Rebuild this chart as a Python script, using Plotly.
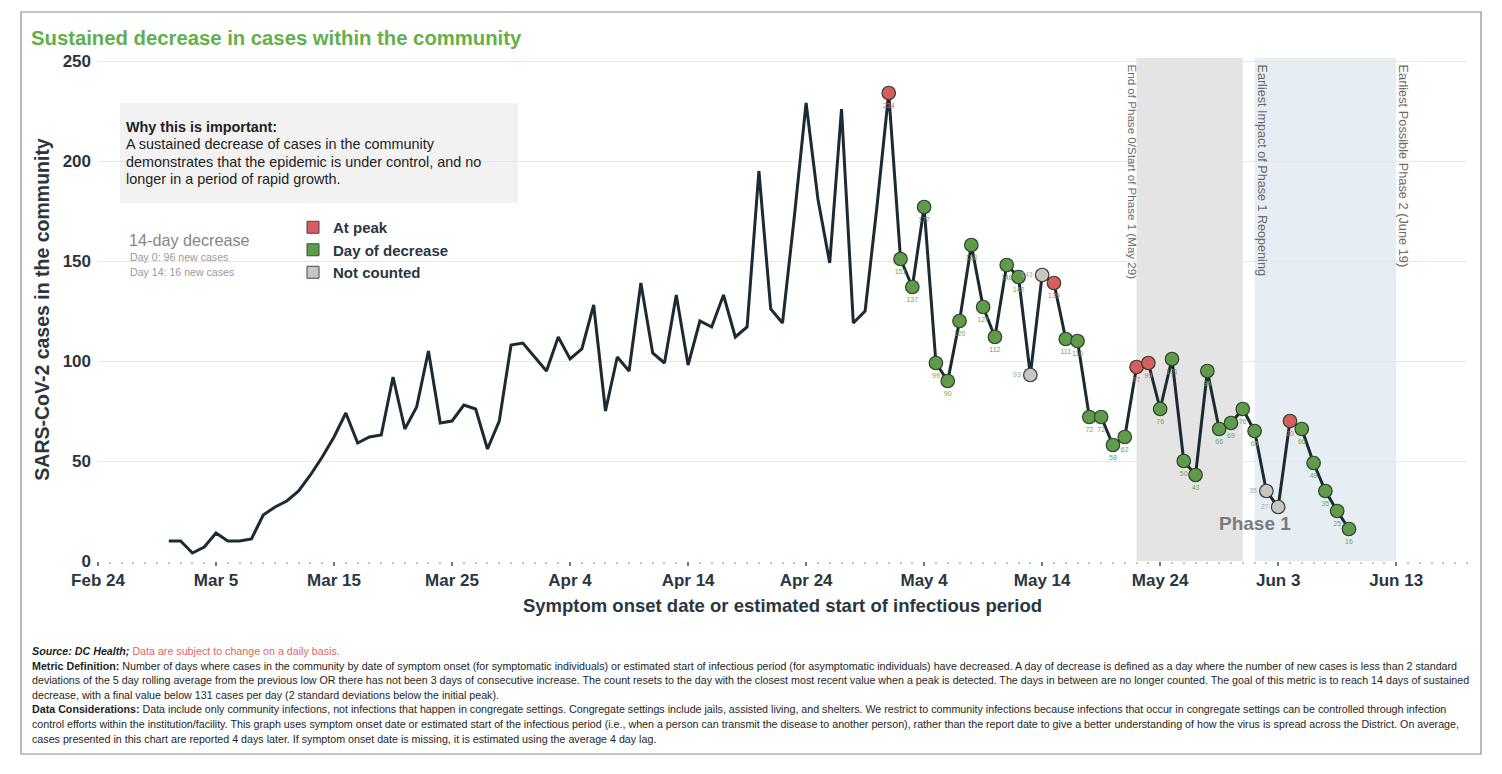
import plotly.graph_objects as go
import pandas as pd

# ---------------- data ----------------
first_date = "2020-03-01"
cases = [10, 10, 4, 7, 14, 10, 10, 11, 23, 27,
         30, 35, 43, 52, 62, 74, 59, 62, 63, 92,
         66, 77, 105, 69, 70, 78, 76, 56, 70, 108,
         109, 102, 95, 112, 101, 106, 128, 75, 102, 95,
         139, 104, 99, 133, 98, 120, 117, 133, 112, 117,
         195, 126, 119, 172, 229, 181, 149, 226, 119, 125,
         177,
         234, 151, 137, 177, 99, 90, 120, 158, 127, 112,
         148, 142, 93, 143, 139, 111, 110, 72, 72, 58,
         62, 97, 99, 76, 101, 50, 43, 95, 66, 69,
         76, 65, 35, 27, 70, 66, 49, 35, 25, 16]

tracking_start = "2020-05-01"
# P = at peak, D = day of decrease, N = not counted
status = ["P", "D", "D", "D", "D", "D", "D", "D", "D", "D",
          "D", "D", "N", "N", "P", "D", "D", "D", "D", "D",
          "D", "P", "P", "D", "D", "D", "D", "D", "D", "D",
          "D", "D", "N", "N", "P", "D", "D", "D", "D", "D"]

status_names = {"P": "At peak", "D": "Day of decrease", "N": "Not counted"}
tick_dates = ["2020-02-24", "2020-03-05", "2020-03-15", "2020-03-25", "2020-04-04",
              "2020-04-14", "2020-04-24", "2020-05-04", "2020-05-14", "2020-05-24",
              "2020-06-03", "2020-06-13"]
tick_labels = ["Feb 24", "Mar 5", "Mar 15", "Mar 25", "Apr 4", "Apr 14", "Apr 24",
               "May 4", "May 14", "May 24", "Jun 3", "Jun 13"]
y_ticks = [0, 50, 100, 150, 200, 250]

# ---------------- styling ----------------
FONT = "Arial"
DARK = "#2b3641"
LINE = "#1b2a33"
fill = {"P": "#d95c5e", "D": "#5f9c49", "N": "#c9c5c5"}
label_col = {"P": "#e06a6a", "D": "#6aa84f", "N": "#a9a9a9"}
label_pos = {"P": "bottom center", "D": "bottom center", "N": "middle left"}

dates = pd.date_range(first_date, periods=len(cases), freq="D")
offset = list(dates).index(pd.Timestamp(tracking_start))

fig = go.Figure()

fig.add_trace(go.Scatter(x=dates, y=cases, mode="lines",
                         line=dict(color=LINE, width=3), showlegend=False,
                         hoverinfo="x+y"))

for key in ["D", "N", "P"]:
    idx = [offset + i for i, s in enumerate(status) if s == key]
    fig.add_trace(go.Scatter(
        x=[dates[i] for i in idx], y=[cases[i] for i in idx],
        mode="markers+text", text=[str(cases[i]) for i in idx],
        textposition=label_pos[key],
        textfont=dict(family=FONT, size=7, color=label_col[key]),
        marker=dict(size=13.5, color=fill[key], line=dict(color="#34402f", width=1.2)),
        showlegend=False, name=status_names[key]))

for key in ["P", "D", "N"]:
    fig.add_trace(go.Scatter(
        x=[None], y=[None], mode="markers", name=status_names[key],
        marker=dict(symbol="square", size=12, color=fill[key],
                    line=dict(color="#444", width=1))))

# ---------------- geometry helpers (pixel -> paper) ----------------
L, R, T, B = 98, 35, 58, 213
W, H = 1502, 774
PW, PH = W - L - R, H - T - B


def px(x):
    return (x - L) / PW


def py(y):
    return (H - B - y) / PH


shapes = [
    dict(type="rect", xref="x", yref="paper", x0="2020-05-22", x1="2020-05-31",
         y0=0, y1=1, fillcolor="#e4e4e4", line=dict(width=0), layer="below"),
    dict(type="rect", xref="x", yref="paper", x0="2020-06-01", x1="2020-06-13",
         y0=0, y1=1, fillcolor="#e6eef4", line=dict(width=0), layer="below"),
    dict(type="rect", xref="paper", yref="paper", x0=px(120), x1=px(518),
         y0=py(203), y1=py(103), fillcolor="#f2f2f2", line=dict(width=0), layer="below"),
    dict(type="rect", xref="paper", yref="paper", x0=px(21), x1=px(1481),
         y0=py(754), y1=py(12), fillcolor="rgba(0,0,0,0)",
         line=dict(color="#8a8a8a", width=1.2)),
]

ann = []
ann.append(dict(xref="paper", yref="paper", x=px(29), y=py(38), xanchor="left", yanchor="middle",
                text="<b>Sustained decrease in cases within the community</b>", showarrow=False,
                font=dict(family=FONT, size=20.3, color="#63b04b")))
info_lines = ["<b>Why this is important:</b>",
              "A sustained decrease of cases in the community",
              "demonstrates that the epidemic is under control, and no",
              "longer in a period of rapid growth."]
for i, t in enumerate(info_lines):
    ann.append(dict(xref="paper", yref="paper", x=px(124), y=py(127 + 17.3 * i),
                    xanchor="left", yanchor="middle", showarrow=False, text=t,
                    font=dict(family=FONT, size=14.4, color="#222")))
ann.append(dict(xref="paper", yref="paper", x=px(127), y=py(240), xanchor="left", yanchor="middle",
                text="14-day decrease", showarrow=False,
                font=dict(family=FONT, size=16.2, color="#858585")))
ann.append(dict(xref="paper", yref="paper", x=px(128), y=py(257), xanchor="left", yanchor="middle",
                text="Day 0: 96 new cases", showarrow=False,
                font=dict(family=FONT, size=10.6, color="#9a9a9a")))
ann.append(dict(xref="paper", yref="paper", x=px(128), y=py(272), xanchor="left", yanchor="middle",
                text="Day 14: 16 new cases", showarrow=False,
                font=dict(family=FONT, size=10.6, color="#9a9a9a")))
ann.append(dict(xref="x", yref="y", x="2020-06-01", y=19, text="<b>Phase 1</b>",
                showarrow=False, font=dict(family=FONT, size=19, color="#7b7b7b")))
for xpix, txt, fs in [(1132, "End of Phase 0/Start of Phase 1 (May 29)", 11.6),
                      (1262, "Earliest Impact of Phase 1 Reopening", 12.6),
                      (1403, "Earliest Possible Phase 2 (June 19)", 12.8)]:
    ann.append(dict(xref="paper", yref="paper", x=px(xpix), y=py(62), xanchor="center",
                    yanchor="top", textangle=90, text=txt, showarrow=False,
                    font=dict(family=FONT, size=fs, color="#6a6a6a")))

footer = [
    "<b><i>Source: DC Health;</i></b> <span style='color:#e06666'>Data are subject to change on a daily basis.</span>",
    "<b>Metric Definition:</b> Number of days where cases in the community by date of symptom onset (for symptomatic individuals) or estimated start of infectious period (for asymptomatic individuals) have decreased. A day of decrease is defined as a day where the number of new cases is less than 2 standard",
    "deviations of the 5 day rolling average from the previous low OR there has not been 3 days of consecutive increase. The count resets to the day with the closest most recent value when a peak is detected. The days in between are no longer counted. The goal of this metric is to reach 14 days of sustained",
    "decrease, with a final value below 131 cases per day (2 standard deviations below the initial peak).",
    "<b>Data Considerations:</b> Data include only community infections, not infections that happen in congregate settings. Congregate settings include jails, assisted living, and shelters. We restrict to community infections because infections that occur in congregate settings can be controlled through infection",
    "control efforts within the institution/facility. This graph uses symptom onset date or estimated start of the infectious period (i.e., when a person can transmit the disease to another person), rather than the report date to give a better understanding of how the virus is spread across the District. On average,",
    "cases presented in this chart are reported 4 days later. If symptom onset date is missing, it is estimated using the average 4 day lag.",
]
for i, line in enumerate(footer):
    ann.append(dict(xref="paper", yref="paper", x=px(30), y=py(651 + 14.6 * i), xanchor="left",
                    yanchor="middle", text=line, showarrow=False, align="left",
                    font=dict(family=FONT, size=10.7, color="#1e1e1e")))

fig.update_layout(
    width=W, height=H, margin=dict(l=L, r=R, t=T, b=B),
    paper_bgcolor="white", plot_bgcolor="white",
    font=dict(family=FONT, color=DARK),
    shapes=shapes, annotations=ann,
    legend=dict(x=px(293), y=py(211), xanchor="left", yanchor="top",
                bgcolor="rgba(0,0,0,0)", tracegroupgap=0, itemwidth=30,
                font=dict(family=FONT, size=15, color=DARK, weight="bold")),
    xaxis=dict(type="date", range=["2020-02-24", "2020-06-19"],
               tickvals=tick_dates, ticktext=tick_labels,
               tickfont=dict(family=FONT, size=17, color=DARK, weight="bold"),
               ticks="outside", ticklen=4, tickwidth=2, tickcolor="#777",
               minor=dict(dtick=86400000, tick0="2020-02-24", ticks="outside",
                          ticklen=2, tickwidth=1.5, tickcolor="#c4c4c4", showgrid=False),
               showgrid=False, zeroline=False, showline=False,
               title=dict(text="Symptom onset date or estimated start of infectious period",
                          font=dict(family=FONT, size=18.5, color=DARK, weight="bold"),
                          standoff=9)),
    yaxis=dict(range=[0, 251.5], tickvals=y_ticks,
               tickfont=dict(family=FONT, size=17, color=DARK, weight="bold"),
               showgrid=True, gridcolor="#e6e6e6", gridwidth=1, zeroline=False,
               ticklabelstandoff=6,
               title=dict(text="SARS-CoV-2 cases in the community",
                          font=dict(family=FONT, size=19.5, color=DARK, weight="bold"),
                          standoff=7)),
)

fig.write_html("out.html", config={"displayModeBar": False},
               post_script="document.body.style.margin='0';")
